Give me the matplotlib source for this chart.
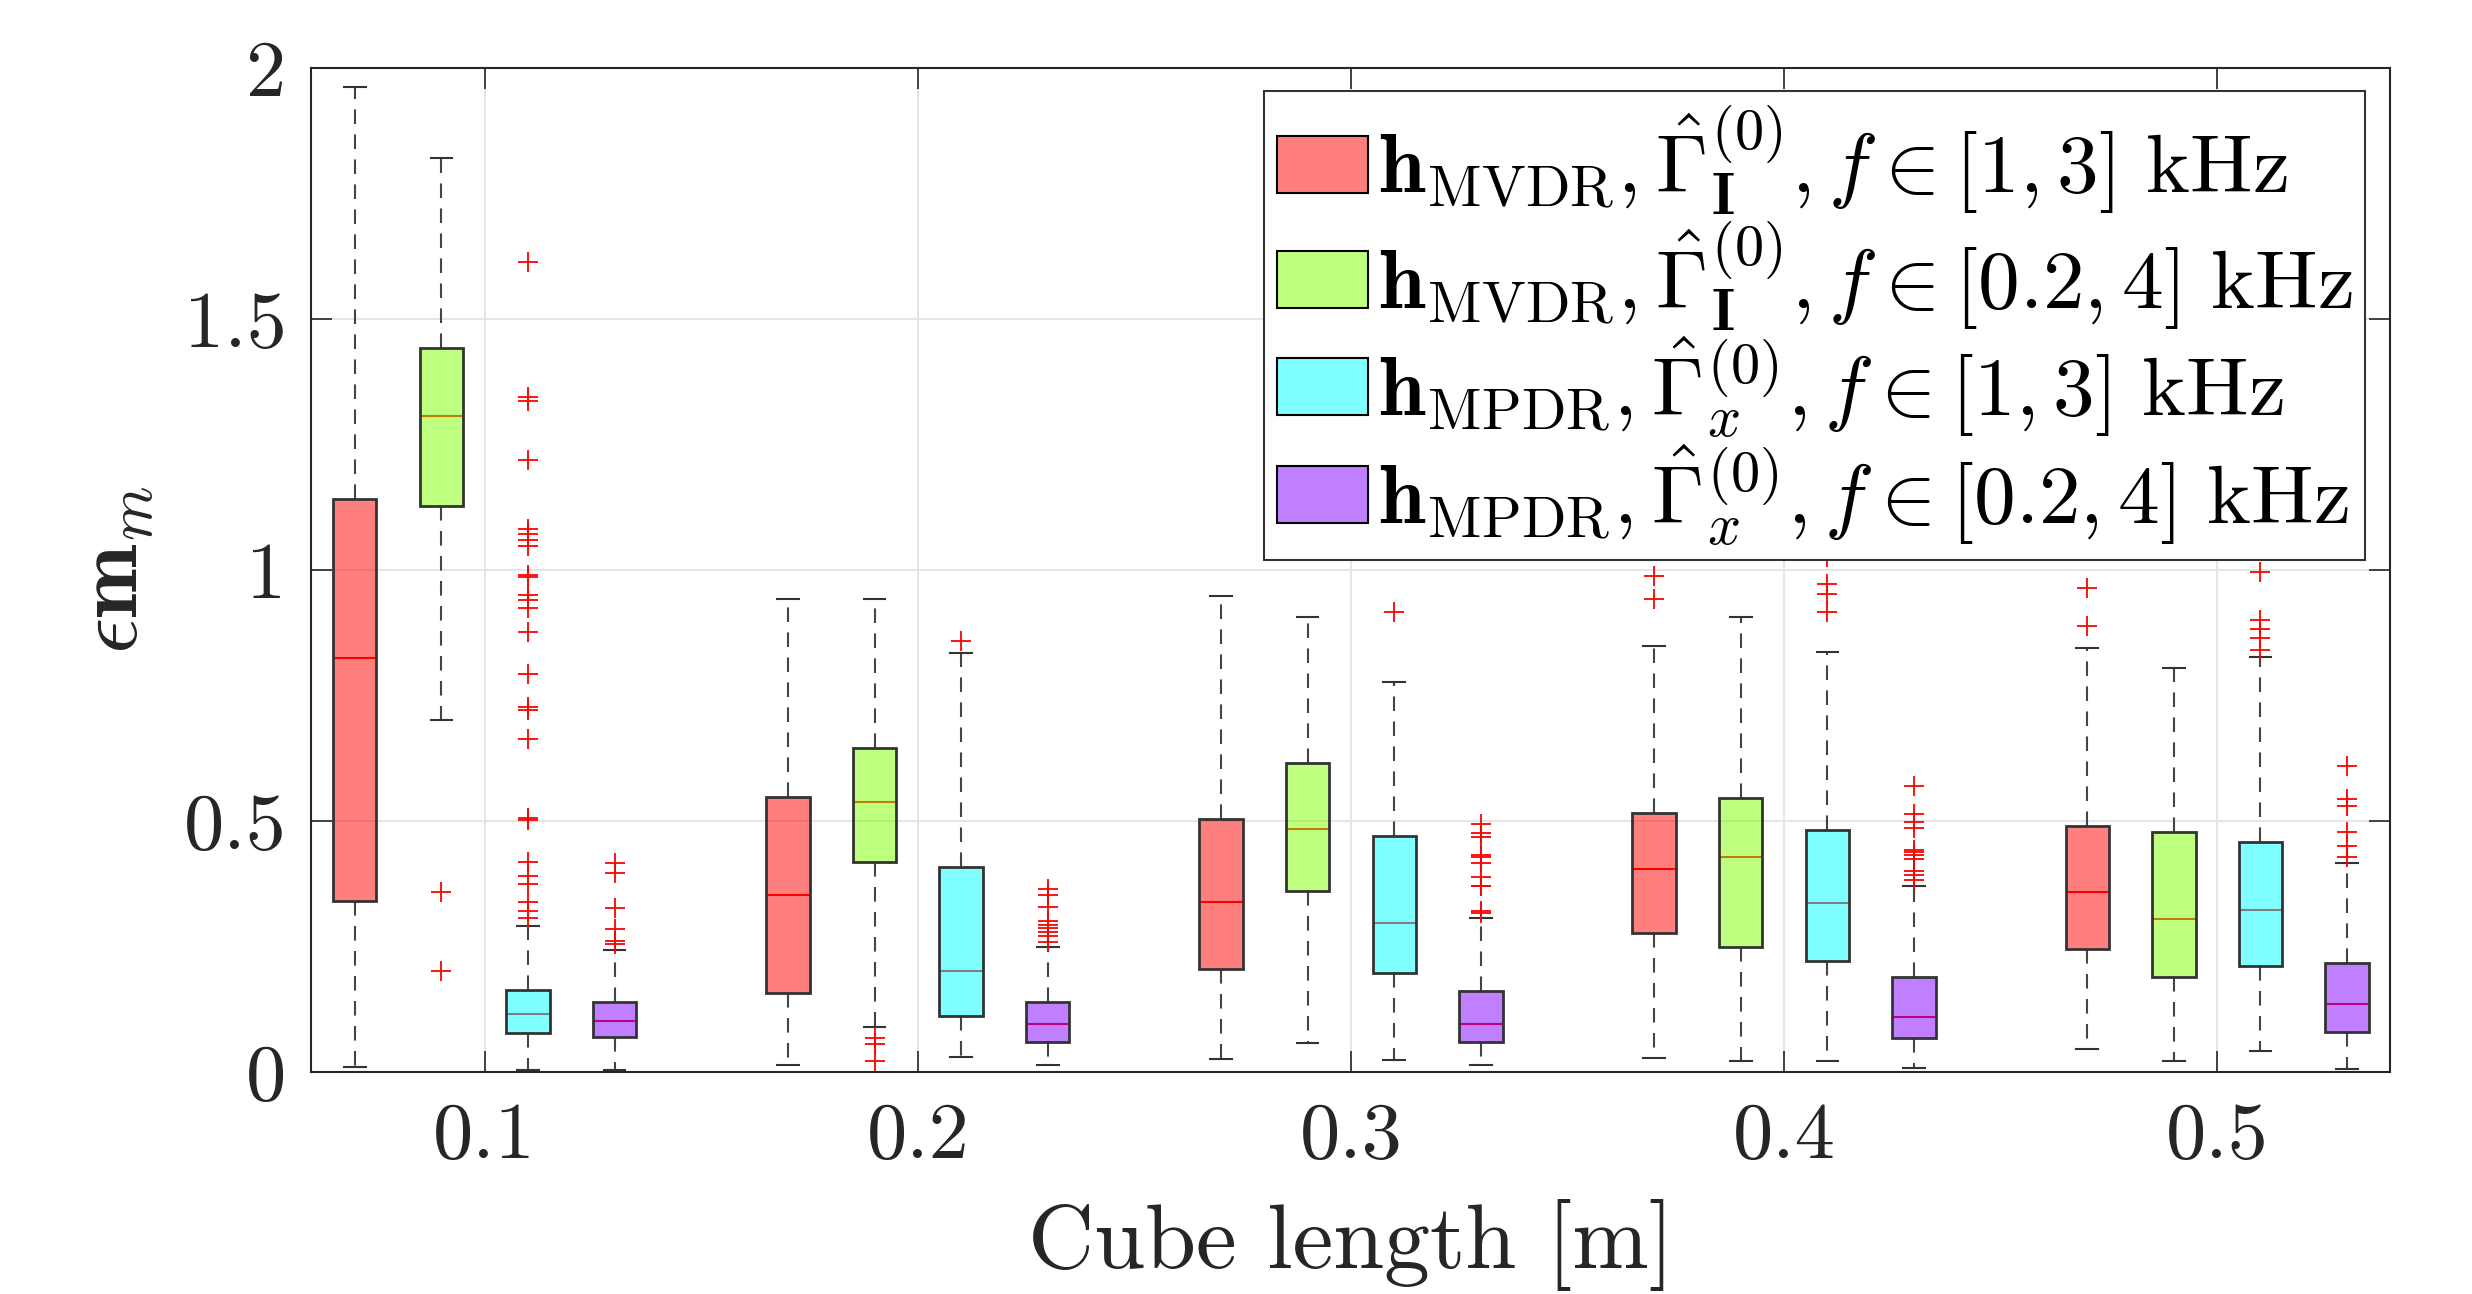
import matplotlib
matplotlib.use('Agg')
import matplotlib.pyplot as plt
from matplotlib.patches import Patch

# LaTeX-like look
plt.rcParams['font.family'] = 'serif'
plt.rcParams['font.serif'] = ['cmr10']
plt.rcParams['mathtext.fontset'] = 'cm'
plt.rcParams['axes.unicode_minus'] = False
plt.rcParams['axes.formatter.use_mathtext'] = True

cube_lengths = [0.1, 0.2, 0.3, 0.4, 0.5]

# per cube length: whislo, q1, median, q3, whishi
mvdr_13 = [
    [0.009, 0.341, 0.824, 1.142, 1.963],
    [0.013, 0.158, 0.352, 0.548, 0.942],
    [0.025, 0.206, 0.339, 0.504, 0.948],
    [0.027, 0.277, 0.404, 0.515, 0.848],
    [0.045, 0.245, 0.359, 0.489, 0.844],
]
mvdr_13_out = [[], [], [], [0.943, 0.989], [0.888, 0.965]]

mvdr_024 = [
    [0.701, 1.127, 1.306, 1.442, 1.820],
    [0.090, 0.419, 0.538, 0.646, 0.942],
    [0.058, 0.360, 0.485, 0.615, 0.907],
    [0.022, 0.249, 0.429, 0.546, 0.906],
    [0.021, 0.190, 0.304, 0.479, 0.805],
]
mvdr_024_out = [[0.201, 0.359], [0.021, 0.056, 0.067], [], [], []]

mpdr_13 = [
    [0.003, 0.078, 0.115, 0.163, 0.290],
    [0.030, 0.112, 0.201, 0.409, 0.834],
    [0.023, 0.198, 0.296, 0.470, 0.776],
    [0.022, 0.221, 0.337, 0.482, 0.836],
    [0.042, 0.211, 0.323, 0.459, 0.827],
]
mpdr_13_out = [
    [1.613, 1.344, 1.336, 1.220, 1.082, 1.072, 1.059, 1.048, 0.991, 0.987,
     0.950, 0.941, 0.924, 0.877, 0.792, 0.727, 0.722, 0.664, 0.506, 0.501,
     0.418, 0.391, 0.375, 0.339, 0.320, 0.307],
    [0.858],
    [0.917],
    [0.917, 0.952, 0.973, 1.025],
    [0.840, 0.865, 0.882, 0.900, 0.997],
]

mpdr_024 = [
    [0.003, 0.069, 0.101, 0.139, 0.242],
    [0.013, 0.060, 0.096, 0.139, 0.248],
    [0.013, 0.060, 0.096, 0.162, 0.307],
    [0.008, 0.068, 0.110, 0.190, 0.371],
    [0.005, 0.079, 0.135, 0.217, 0.416],
]
mpdr_024_out = [
    [0.416, 0.397, 0.327, 0.284, 0.261, 0.255],
    [0.364, 0.352, 0.329, 0.300, 0.293, 0.287, 0.278, 0.270, 0.258],
    [0.493, 0.476, 0.469, 0.433, 0.428, 0.417, 0.389, 0.371, 0.370, 0.321, 0.317],
    [0.570, 0.514, 0.498, 0.486, 0.442, 0.438, 0.432, 0.424, 0.401, 0.392, 0.382],
    [0.610, 0.543, 0.529, 0.479, 0.451, 0.428],
]

labels = [
    r'$\mathbf{h}_{\mathrm{MVDR}}, \hat{\mathbf{\Gamma}}^{(0)}_{\mathbf{I}}, f \in [1, 3]\ \mathrm{kHz}$',
    r'$\mathbf{h}_{\mathrm{MVDR}}, \hat{\mathbf{\Gamma}}^{(0)}_{\mathbf{I}}, f \in [0.2, 4]\ \mathrm{kHz}$',
    r'$\mathbf{h}_{\mathrm{MPDR}}, \hat{\mathbf{\Gamma}}^{(0)}_{x}, f \in [1, 3]\ \mathrm{kHz}$',
    r'$\mathbf{h}_{\mathrm{MPDR}}, \hat{\mathbf{\Gamma}}^{(0)}_{x}, f \in [0.2, 4]\ \mathrm{kHz}$',
]
colors = [(1, 0, 0), (0.5, 1, 0), (0, 1, 1), (0.5, 0, 1)]
offsets = [-0.03, -0.01, 0.01, 0.03]

series = [(mvdr_13, mvdr_13_out), (mvdr_024, mvdr_024_out),
          (mpdr_13, mpdr_13_out), (mpdr_024, mpdr_024_out)]

fig = plt.figure(figsize=(24.72, 12.94), dpi=100)
ax = fig.add_axes([0.126, 0.1716, 0.841, 0.7758])

for (rows, outs), c, off in zip(series, colors, offsets):
    stats = []
    for r, o in zip(rows, outs):
        stats.append(dict(whislo=r[0], q1=r[1], med=r[2], q3=r[3], whishi=r[4], fliers=o))
    pos = [x + off for x in cube_lengths]
    ax.bxp(stats, positions=pos, widths=0.01, capwidths=0.005,
           patch_artist=True, manage_ticks=False,
           boxprops=dict(facecolor=(*c, 0.5), edgecolor='#333333', linewidth=2, zorder=3),
           medianprops=dict(color='red', linewidth=1.5, zorder=2.9),
           whiskerprops=dict(color='#444444', linewidth=1.5, linestyle=(0, (7, 5))),
           capprops=dict(color='#333333', linewidth=1.5),
           flierprops=dict(marker='+', markeredgecolor='red', markersize=14,
                           markeredgewidth=1.3, linestyle='none'))

ax.set_xlim(0.06, 0.54)
ax.set_ylim(0, 2)
ax.set_xticks(cube_lengths)
ax.set_xticklabels(['0.1', '0.2', '0.3', '0.4', '0.5'])
ax.set_yticks([0, 0.5, 1, 1.5, 2])
ax.set_yticklabels(['0', '0.5', '1', '1.5', '2'])
ax.tick_params(direction='in', length=15, width=1.2, top=True, right=True,
               labelsize=58, colors='#262626')
ax.tick_params(axis='x', pad=22)
ax.tick_params(axis='y', pad=18)
ax.grid(True, color='#e3e3e3', linewidth=1.3)
ax.set_axisbelow(True)
for s in ax.spines.values():
    s.set_color('#262626')
    s.set_linewidth(1.5)

ax.set_xlabel('Cube length [m]', fontsize=66, color='#262626', labelpad=18)
ax.set_ylabel(r'$\epsilon \mathbf{m}_m$', fontsize=64, color='#262626', labelpad=20)

handles = [Patch(facecolor=(*c, 0.5), edgecolor='k', linewidth=1.5) for c in colors]
leg = ax.legend(handles, labels, loc='upper right', bbox_to_anchor=(0.988, 0.977),
                borderaxespad=0, fontsize=60, fancybox=False, framealpha=1,
                edgecolor='#333333', handlelength=1.1, handleheight=0.68,
                handletextpad=0.12, labelspacing=0.02, borderpad=0.15)
leg.get_frame().set_linewidth(1.5)
leg.set_zorder(10)

fig.savefig('out.png', dpi=100)
